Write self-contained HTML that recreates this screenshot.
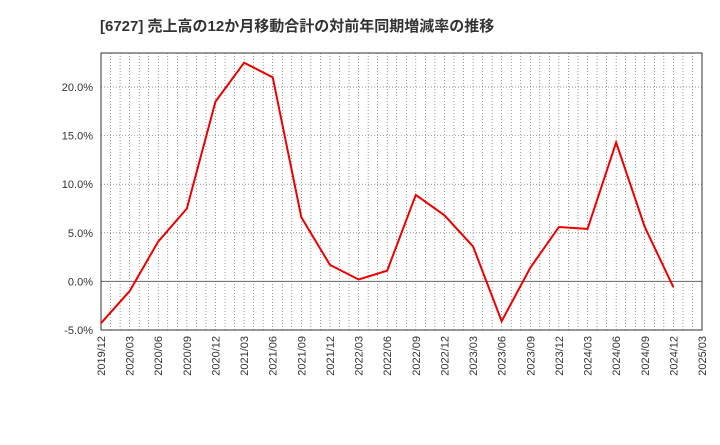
<!DOCTYPE html>
<html><head><meta charset="utf-8"><style>
body{margin:0;background:#fff;font-family:"Liberation Sans","Noto Sans CJK JP",sans-serif;}
</style></head><body>
<svg width="720" height="440" xmlns="http://www.w3.org/2000/svg">
<text x="100" y="31" font-size="15" font-weight="bold" fill="#333">[6727]  売上高の12か月移動合計の対前年同期増減率の推移</text>
<g id="grid"></g>
<g id="axes"></g>
<polyline id="line" fill="none" stroke="#e00" stroke-width="2"/>
</svg>
<script>
const categories=["2019/12","2020/03","2020/06","2020/09","2020/12","2021/03","2021/06","2021/09","2021/12","2022/03","2022/06","2022/09","2022/12","2023/03","2023/06","2023/09","2023/12","2024/03","2024/06","2024/09","2024/12","2025/03"];
const values=[-4.3,-1.0,4.1,7.5,18.5,22.5,21.0,6.6,1.7,0.2,1.1,8.9,6.8,3.6,-4.1,1.4,5.6,5.4,14.3,5.6,-0.6];
const yTicks=[-5,0,5,10,15,20];
const yTickLabels=["-5.0%","0.0%","5.0%","10.0%","15.0%","20.0%"];
const L=101,R=702,T=53,B=330,ymin=-5,ymax=23.5;
const xs=i=>L+(R-L)*i/(categories.length-1);
const ys=v=>B-(v-ymin)/(ymax-ymin)*(B-T);
const NS="http://www.w3.org/2000/svg";
const grid=document.getElementById('grid'),axes=document.getElementById('axes');
function mk(tag,attrs,parent){const e=document.createElementNS(NS,tag);for(const k in attrs)e.setAttribute(k,attrs[k]);parent.appendChild(e);return e;}
const months=(categories.length-1)*3;
for(let m=1;m<months;m++){const x=L+(R-L)*m/months;
const g=mk('line',{x1:x,x2:x,y1:T,y2:B,stroke:'#555','stroke-width':0.6,'stroke-dasharray':'1,2'},grid);

}
yTicks.forEach((v,i)=>{const y=ys(v);
const g=mk('line',{x1:L,x2:R,y1:y,y2:y,stroke:v===0?'#666':'#555','stroke-width':v===0?1:0.6,'stroke-dasharray':v===0?'':'1,2'},grid);


const t=mk('text',{x:L-8,y:y+4,'font-size':11,'text-anchor':'end',fill:'#333'},axes);t.textContent=yTickLabels[i];

});
categories.forEach((c,i)=>{const x=xs(i);
const t=mk('text',{x:0,y:0,'font-size':11,'text-anchor':'end',fill:'#333',transform:`translate(${x+4},${B+6}) rotate(-90)`},axes);t.textContent=c;

});
const fr=mk('rect',{x:L,y:T,width:R-L,height:B-T,fill:'none',stroke:'#333','stroke-width':1},axes);


document.getElementById('line').setAttribute('points',values.map((v,i)=>xs(i)+','+ys(v)).join(' '));
</script>
</body></html>
